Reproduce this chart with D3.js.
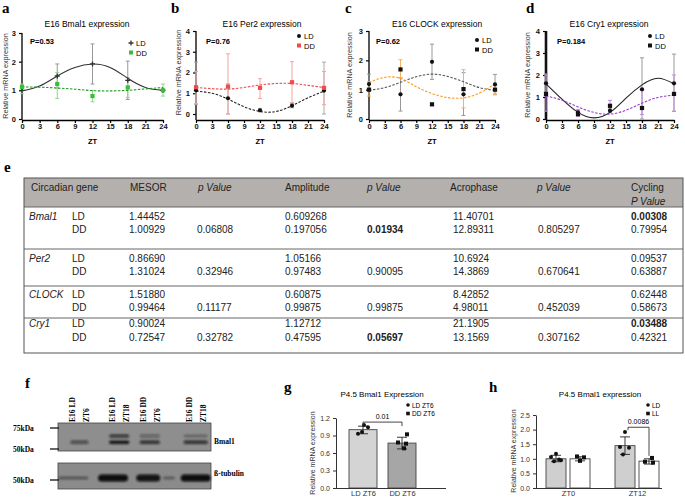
<!DOCTYPE html>
<html>
<head>
<meta charset="utf-8">
<script src="https://cdn.jsdelivr.net/npm/d3@7"></script>
<style>
  body { margin: 0; background: #fff; }
  svg { display: block; font-family: "Liberation Sans", Arial, sans-serif; }
</style>
</head>
<body>
<svg id="fig" width="685" height="501"></svg>
<script>
// ---------- data: panels a-d (E16 cosinor plots) ----------
const zt = [0, 6, 12, 18, 24];
const ztFit = [0, 3, 6, 9, 12, 15, 18, 21, 24];
const ztTicks = [0, 3, 6, 9, 12, 15, 18, 21, 24];

const bmal1LD = [1.0, 1.5, 1.92, 1.35, 1.0];
const bmal1LDlo = [1.0, 1.08, 1.22, 0.68, 1.0];
const bmal1LDhi = [1.0, 1.92, 2.62, 2.02, 1.0];
const bmal1LDfit = [0.98, 1.15, 1.5, 1.8, 1.92, 1.8, 1.42, 1.1, 1.0];
const bmal1DD = [1.12, 1.22, 0.8, 1.1, 1.0];
const bmal1DDlo = [0.88, 0.72, 0.6, 0.75, 0.8];
const bmal1DDhi = [1.22, 1.62, 1.0, 1.45, 1.22];
const bmal1DDfit = [1.12, 1.11, 1.08, 1.04, 0.99, 0.98, 1.0, 1.05, 1.1];

const per2LD = [1.14, 0.76, 0.18, 0.4, 1.13];
const per2LDlo = [0.45, 0.0, 0.1, 0.3, 0.0];
const per2LDhi = [2.5, 1.45, 0.27, 0.52, 2.5];
const per2LDfit = [1.1, 1.0, 0.72, 0.35, 0.12, 0.12, 0.4, 0.78, 1.1];
const per2DD = [1.29, 1.32, 1.26, 1.53, 1.26];
const per2DDlo = [0.5, 0.0, 0.75, 0.55, 0.45];
const per2DDhi = [2.05, 2.9, 1.7, 2.52, 2.05];
const per2DDfit = [1.28, 1.22, 1.2, 1.28, 1.4, 1.47, 1.47, 1.38, 1.28];

const clockLD = [1.19, 0.84, 1.95, 0.84, 1.18];
const clockLDlo = [1.0, 0.27, 1.35, 0.12, 0.85];
const clockLDhi = [1.53, 1.4, 2.55, 1.58, 1.52];
const clockLDfit = [0.98, 1.07, 1.25, 1.44, 1.53, 1.45, 1.27, 1.07, 0.98];
const clockDD = [1.0, 1.69, 0.5, 1.02, 1.0];
const clockDDlo = [0.78, 1.4, 0.5, 0.38, 0.82];
const clockDDhi = [1.27, 2.02, 0.5, 1.68, 1.2];
const clockDDfit = [1.25, 1.42, 1.38, 1.1, 0.87, 0.73, 0.72, 0.88, 1.2];

const cry1LD = [1.62, 0.3, 0.38, 1.35, 1.62];
const cry1LDlo = [1.2, 0.15, 0.28, 0.0, 0.35];
const cry1LDhi = [2.05, 0.42, 0.5, 2.78, 2.95];
const cry1LDfit = [1.6, 0.9, 0.3, 0.05, 0.3, 0.95, 1.55, 1.85, 1.6];
const cry1DD = [1.14, 0.22, 0.6, 0.5, 1.14];
const cry1DDlo = [0.35, 0.12, 0.4, 0.2, 0.35];
const cry1DDhi = [2.0, 0.4, 0.85, 1.3, 2.0];
const cry1DDfit = [1.05, 0.85, 0.55, 0.3, 0.22, 0.4, 0.72, 0.98, 1.08];

// ---------- data: panel e (cosinor table) ----------
const tableHeader = ["Circadian gene", "MESOR", "p Value", "Amplitude", "p Value", "Acrophase", "p Value", "Cycling"];
const genes = ["Bmal1", "Per2", "CLOCK", "Cry1"];
const mesorLD = ["1.44452", "0.86690", "1.51880", "0.90024"];
const mesorDD = ["1.00929", "1.31024", "0.99464", "0.72547"];
const mesorP = ["0.06808", "0.32946", "0.11177", "0.32782"];
const ampLD = ["0.609268", "1.05166", "0.60875", "1.12712"];
const ampDD = ["0.197056", "0.97483", "0.99875", "0.47595"];
const ampP = ["0.01934", "0.90095", "0.99875", "0.05697"];
const acroLD = ["11.40701", "10.6924", "8.42852", "21.1905"];
const acroDD = ["12.89311", "14.3869", "4.98011", "13.1569"];
const acroP = ["0.805297", "0.670641", "0.452039", "0.307162"];
const cycLD = ["0.00308", "0.09537", "0.62448", "0.03488"];
const cycDD = ["0.79954", "0.63887", "0.58673", "0.42321"];
const boldCells = ["0.01934", "0.05697", "0.00308", "0.03488"];

// ---------- data: panel f (western blot) ----------
const laneLabels = [["E16 LD", "ZT6"], ["E16 LD", "ZT18"], ["E16 DD", "ZT6"], ["E16 DD", "ZT18"]];
const laneAt = [14, 40, 60, 90];           // % across blot
const bmal1Lower = [0.55, 0.95, 0.75, 0.75]; // band darkness per lane
const bmal1Upper = [0.0, 0.75, 0.4, 0.3];
const tubulinAt = [10, 36, 59, 72.5, 90];
const tubulinBand = [0.4, 1.0, 0.95, 0.35, 1.0];
const tubulinWide = [19.6, 19.6, 15.7, 7.8, 19.6];
const markers = ["75kDa", "50kDa", "50kDa"];

// ---------- data: panel g ----------
const gGroups = ["LD ZT6", "DD ZT6"];
const gMean = [1.0, 0.77];
const gLo = [0.93, 0.67];
const gHi = [1.06, 0.87];
const gPoints = [[1.08, 1.04, 0.96, 0.93], [0.92, 0.78, 0.76, 0.68]];
const gTicks = [0, 0.3, 0.6, 0.9, 1.2];

// ---------- data: panel h ----------
const hGroups = ["ZT0", "ZT12"];
const hSeries = ["LD", "LL"];
const hMean = [[1.0, 1.0], [1.45, 0.92]];
const hLo = [[0.9, 0.93], [1.15, 0.82]];
const hHi = [[1.12, 1.07], [1.75, 1.0]];
const hPoints = [[[1.17, 1.06, 0.95, 0.92, 0.98], [1.08, 1.05, 0.93]],
                 [[1.92, 1.4, 1.38, 1.15], [1.03, 0.9, 0.87]]];
const hTicks = [0, 0.5, 1.0, 1.5, 2.0, 2.5];

// ---------- drawing ----------
const svg = d3.select("#fig");
const serif = "'Liberation Serif', 'Times New Roman', serif";

function letter(t, x, y) {
  svg.append("text").attr("x", x).attr("y", y).text(t)
    .style("font-family", serif).style("font-weight", "bold").style("font-size", "15px");
}

function marker(g, type, cx, cy, color, size) {
  if (type === "square") {
    g.append("rect").attr("x", cx - size / 2).attr("y", cy - size / 2)
      .attr("width", size).attr("height", size).attr("fill", color);
  } else if (type === "circle") {
    g.append("circle").attr("cx", cx).attr("cy", cy).attr("r", size / 2).attr("fill", color);
  } else {
    g.append("path").attr("d", `M${cx - 2.5},${cy}H${cx + 2.5}M${cx},${cy - 2.5}V${cy + 2.5}`)
      .attr("stroke", color).attr("stroke-width", 1.3);
  }
}

function cosinorPanel(p) {
  const g = svg.append("g");
  const x = d3.scaleLinear().domain([0, 24]).range([p.x0, p.x1]);
  const y = d3.scaleLinear().domain([0, p.ymax]).range([p.y0, p.yTop]);

  g.append("text").attr("x", p.tx).attr("y", 27).attr("text-anchor", "middle")
    .style("font-size", "8.5px").text(p.title);

  const yAx = g.append("g").attr("transform", `translate(${p.x0},0)`)
    .call(d3.axisLeft(y).ticks(p.ymax).tickFormat(d3.format("d")).tickSize(3).tickSizeOuter(0));
  yAx.select(".domain").remove();
  g.append("line").attr("x1", p.x0).attr("x2", p.x0).attr("y1", p.yTop).attr("y2", p.xAxisY)
    .attr("stroke", "#111").attr("stroke-width", p.thickY ? 2.6 : 1.4);

  const xAx = g.append("g").attr("transform", `translate(0,${p.xAxisY})`)
    .call(d3.axisBottom(x).tickValues(ztTicks).tickSize(3).tickSizeOuter(0));
  xAx.select(".domain").attr("stroke-width", 1.4);
  [yAx, xAx].forEach(a => {
    a.selectAll("text").style("font-size", "7.5px").style("font-weight", "bold")
      .style("font-family", "'Liberation Sans', Arial, sans-serif").attr("fill", "#111");
    a.selectAll(".tick line").attr("stroke-width", 1.2);
  });
  xAx.selectAll("text").attr("dy", "0.62em").attr("y", 4);

  g.append("text").attr("x", (p.x0 + p.x1) / 2).attr("y", 144).attr("text-anchor", "middle")
    .style("font-size", "7.5px").style("font-weight", "bold").text("ZT");
  g.append("text").attr("transform", `translate(${p.ylx},${(p.yTop + p.y0) / 2}) rotate(-90)`)
    .attr("text-anchor", "middle").style("font-size", "7.2px").attr("fill", "#333")
    .text("Relative mRNA expression");
  g.append("text").attr("x", p.px).attr("y", 44).style("font-size", "7.5px")
    .style("font-weight", "bold").text(p.pval);

  const line = d3.line().x((d, i) => x(ztFit[i])).y(d => y(d)).curve(d3.curveNatural);

  p.series.forEach(s => {
    zt.forEach((t, i) => {
      if (s.hi[i] - s.lo[i] < 0.02) return;
      const e = g.append("g").attr("stroke", s.err).attr("stroke-width", 1);
      e.append("line").attr("x1", x(t)).attr("x2", x(t)).attr("y1", y(s.lo[i])).attr("y2", y(s.hi[i]));
      [s.lo[i], s.hi[i]].forEach(v => e.append("line").attr("x1", x(t) - 2).attr("x2", x(t) + 2)
        .attr("y1", y(v)).attr("y2", y(v)));
    });
  });
  p.series.forEach(s => {
    g.append("path").datum(s.fit).attr("d", line).attr("fill", "none")
      .attr("stroke", s.curve).attr("stroke-width", 1.1)
      .attr("stroke-dasharray", s.dash ? "2.5,1.5" : null);
  });
  p.series.forEach(s => {
    zt.forEach((t, i) => marker(g, s.shape, x(t), y(s.mean[i]), s.color, 4.2));
  });
  p.series.forEach((s, i) => {
    marker(g, s.shape, p.lgx, p.lgy + i * 9.5, s.color, 4);
    g.append("text").attr("x", p.lgx + 5).attr("y", p.lgy + i * 9.5 + 3)
      .style("font-size", "7.5px").text(s.name);
  });
}

const panels = [
  { letter: "a", lx: 2, title: "E16 Bmal1 expression", tx: 87, x0: 22, x1: 163, yTop: 33, y0: 119, xAxisY: 120,
    ymax: 3, ylx: 8, px: 30, pval: "P=0.53", lgx: 131, lgy: 43,
    series: [
      { name: "LD", shape: "plus", color: "#333", err: "#999", curve: "#333", dash: false,
        mean: bmal1LD, lo: bmal1LDlo, hi: bmal1LDhi, fit: bmal1LDfit },
      { name: "DD", shape: "square", color: "#35c135", err: "#8fd88f", curve: "#1e9a1e", dash: true,
        mean: bmal1DD, lo: bmal1DDlo, hi: bmal1DDhi, fit: bmal1DDfit }] },
  { letter: "b", lx: 171, title: "E16 Per2 expression", tx: 262, x0: 196, x1: 324, yTop: 31, y0: 114, xAxisY: 120,
    ymax: 4, ylx: 181, px: 206, pval: "P=0.76", lgx: 299, lgy: 36,
    series: [
      { name: "LD", shape: "circle", color: "#111", err: "#aaa", curve: "#222", dash: true,
        mean: per2LD, lo: per2LDlo, hi: per2LDhi, fit: per2LDfit },
      { name: "DD", shape: "square", color: "#f04a4a", err: "#f5a5a5", curve: "#f04a4a", dash: true,
        mean: per2DD, lo: per2DDlo, hi: per2DDhi, fit: per2DDfit }] },
  { letter: "c", lx: 345, title: "E16 CLOCK expression", tx: 437, x0: 369, x1: 495, yTop: 31, y0: 119, xAxisY: 120,
    ymax: 3, ylx: 352, px: 376, pval: "P=0.62", lgx: 477, lgy: 40,
    series: [
      { name: "LD", shape: "circle", color: "#111", err: "#999", curve: "#555", dash: true,
        mean: clockLD, lo: clockLDlo, hi: clockLDhi, fit: clockLDfit },
      { name: "DD", shape: "square", color: "#111", err: "#f5b060", curve: "#f59a2a", dash: true,
        mean: clockDD, lo: clockDDlo, hi: clockDDhi, fit: clockDDfit }] },
  { letter: "d", lx: 526, title: "E16 Cry1 expression", tx: 609, x0: 546, x1: 674, yTop: 31, y0: 119, xAxisY: 120,
    ymax: 4, ylx: 530, px: 557, pval: "P=0.184", lgx: 650, lgy: 36, thickY: true,
    series: [
      { name: "LD", shape: "circle", color: "#111", err: "#999", curve: "#222", dash: false,
        mean: cry1LD, lo: cry1LDlo, hi: cry1LDhi, fit: cry1LDfit },
      { name: "DD", shape: "square", color: "#111", err: "#c38be0", curve: "#9a3ad0", dash: true,
        mean: cry1DD, lo: cry1DDlo, hi: cry1DDhi, fit: cry1DDfit }] }
];
panels.forEach(p => { letter(p.letter, p.lx, 13); cosinorPanel(p); });

// ---------- panel e: table ----------
letter("e", 4, 172);
const tb = svg.append("g").style("font-size", "10px").attr("fill", "#222");
const tLeft = 24, tRight = 683, tTop = 178, tHead = 207, tBottom = 353;
tb.append("rect").attr("x", tLeft).attr("y", tTop).attr("width", tRight - tLeft).attr("height", tHead - tTop)
  .attr("fill", "#b3b0ad");
const headX = [31, 130, 198, 285, 367, 450, 537, 631];
tableHeader.forEach((h, i) => {
  tb.append("text").attr("x", headX[i]).attr("y", 191).text(h)
    .style("font-style", h === "p Value" ? "italic" : "normal");
});
tb.append("text").attr("x", 631).attr("y", 205).text("P Value").style("font-style", "italic");
const rowY = [[216, 229], [258, 271], [294, 307], [323, 337]];
const colX = { gene: 29, cond: 72, mesor: 129, p1: 197, amp: 285, p2: 367, acro: 453, p3: 538, cyc: 631 };
function cell(t, x, y, italic) {
  tb.append("text").attr("x", x).attr("y", y + 3.5).text(t)
    .style("font-weight", boldCells.includes(t) ? "bold" : "normal")
    .style("font-style", italic ? "italic" : "normal");
}
genes.forEach((gname, i) => {
  const [yl, yd] = rowY[i];
  cell(gname, colX.gene, yl, true);
  cell("LD", colX.cond, yl); cell("DD", colX.cond, yd);
  cell(mesorLD[i], colX.mesor, yl); cell(mesorDD[i], colX.mesor, yd); cell(mesorP[i], colX.p1, yd);
  cell(ampLD[i], colX.amp, yl); cell(ampDD[i], colX.amp, yd); cell(ampP[i], colX.p2, yd);
  cell(acroLD[i], colX.acro, yl); cell(acroDD[i], colX.acro, yd); cell(acroP[i], colX.p3, yd);
  cell(cycLD[i], colX.cyc, yl); cell(cycDD[i], colX.cyc, yd);
});
[tHead, 249, 286, 318].forEach(yy => tb.append("line").attr("x1", tLeft).attr("x2", tRight)
  .attr("y1", yy).attr("y2", yy).attr("stroke", "#666").attr("stroke-width", 1));
tb.append("rect").attr("x", tLeft).attr("y", tTop).attr("width", tRight - tLeft).attr("height", tBottom - tTop)
  .attr("fill", "none").attr("stroke", "#555").attr("stroke-width", 1);

// ---------- panel f: blot ----------
letter("f", 25, 388);
const defs = svg.append("defs");
defs.append("filter").attr("id", "blur").attr("x", "-30%").attr("y", "-100%").attr("width", "160%").attr("height", "300%")
  .append("feGaussianBlur").attr("stdDeviation", 1.1);
const bx = d3.scaleLinear().domain([0, 100]).range([58, 211]);
const bf = svg.append("g");
bf.append("rect").attr("x", bx(0)).attr("y", 423).attr("width", bx(100) - bx(0)).attr("height", 28).attr("fill", "#8e8e8e");
bf.append("rect").attr("x", bx(0)).attr("y", 463).attr("width", bx(100) - bx(0)).attr("height", 26).attr("fill", "#8b8b8b");
const bands = bf.append("g").attr("filter", "url(#blur)");
laneAt.forEach((c, i) => {
  const w = i === 3 ? 15.7 : (i === 0 ? 11.8 : 13.1);
  if (bmal1Upper[i] > 0) bands.append("rect").attr("x", bx(c - w / 2)).attr("y", 434.5)
    .attr("width", bx(w) - bx(0)).attr("height", 3).attr("rx", 1.5).attr("fill", "#111").attr("opacity", bmal1Upper[i]);
  bands.append("rect").attr("x", bx(c - w / 2)).attr("y", 440.5)
    .attr("width", bx(w) - bx(0)).attr("height", 3.5).attr("rx", 1.5).attr("fill", "#111").attr("opacity", bmal1Lower[i]);
});
tubulinAt.forEach((c, i) => {
  const w = tubulinWide[i], h = tubulinBand[i] > 0.9 ? 7 : 3;
  bands.append("rect").attr("x", bx(c - w / 2)).attr("y", 478 - h / 2)
    .attr("width", bx(w) - bx(0)).attr("height", h).attr("rx", h / 2).attr("fill", "#0a0a0a").attr("opacity", tubulinBand[i]);
});
bf.append("rect").attr("x", bx(0)).attr("y", 423).attr("width", bx(100) - bx(0)).attr("height", 28)
  .attr("fill", "none").attr("stroke", "#444").attr("stroke-width", 0.8);
bf.append("rect").attr("x", bx(0)).attr("y", 463).attr("width", bx(100) - bx(0)).attr("height", 26)
  .attr("fill", "none").attr("stroke", "#444").attr("stroke-width", 0.8);
laneLabels.forEach((lab, i) => {
  lab.forEach((t, j) => {
    bf.append("text").attr("transform", `translate(${bx(laneAt[i]) - 4 + j * 14},422) rotate(-90)`)
      .style("font-family", serif).style("font-weight", "bold").style("font-size", "7.5px").text(t);
  });
});
const markY = [428, 449, 480];
markers.forEach((m, i) => {
  bf.append("text").attr("x", 13).attr("y", markY[i] + 2.5).text(m)
    .style("font-family", serif).style("font-weight", "bold").style("font-size", "7.5px");
  bf.append("line").attr("x1", 50).attr("x2", 59).attr("y1", markY[i]).attr("y2", markY[i])
    .attr("stroke", "#111").attr("stroke-width", 1.3);
});
[["Bmal1", 444], ["\u00df-tubulin", 476]].forEach(([t, yy]) => bf.append("text").attr("x", 214).attr("y", yy)
  .text(t).style("font-family", serif).style("font-weight", "bold").style("font-size", "7.5px"));

// ---------- bar chart helper (g, h) ----------
function styleAxis(a) {
  a.selectAll("text").style("font-size", "7px").attr("fill", "#333");
  a.select(".domain").attr("stroke", "#333");
  a.selectAll(".tick line").attr("stroke", "#333");
}
function errBar(g, cx, lo, hi, y) {
  const e = g.append("g").attr("stroke", "#222").attr("stroke-width", 0.9);
  e.append("line").attr("x1", cx).attr("x2", cx).attr("y1", y(lo)).attr("y2", y(hi));
  [lo, hi].forEach(v => e.append("line").attr("x1", cx - 5).attr("x2", cx + 5).attr("y1", y(v)).attr("y2", y(v)));
}
const barBase = 488;

// ---------- panel g ----------
letter("g", 284, 392);
{
  const g = svg.append("g");
  const y = d3.scaleLinear().domain([0, 1.2]).range([barBase, 418]);
  const x = d3.scalePoint().domain(gGroups).range([363, 402]);
  const bw = 28;
  const jitter = [[1, 5, -1, -5], [5, -4, 4, 2]];
  g.append("text").attr("x", 382).attr("y", 397).attr("text-anchor", "middle").style("font-size", "8px")
    .text("P4.5 Bmal1 Expression");
  const fills = ["#d4d4d4", "#a6a6a6"];
  gGroups.forEach((k, i) => {
    g.append("rect").attr("x", x(k) - bw / 2).attr("y", y(gMean[i])).attr("width", bw)
      .attr("height", y(0) - y(gMean[i])).attr("fill", fills[i]).attr("stroke", "#444").attr("stroke-width", 0.9);
    errBar(g, x(k), gLo[i], gHi[i], y);
    gPoints[i].forEach((v, j) => marker(g, i === 0 ? "circle" : "square", x(k) + jitter[i][j], y(v), "#111", 4));
  });
  const ya = g.append("g").attr("transform", "translate(336,0)")
    .call(d3.axisLeft(y).tickValues(gTicks).tickFormat(d3.format(".1f")).tickSize(3).tickSizeOuter(0));
  const xa = g.append("g").attr("transform", `translate(0,${barBase})`)
    .call(d3.axisBottom(x).tickSize(0).tickSizeOuter(0));
  xa.select(".domain").attr("d", "M336,0.5H446");
  xa.selectAll("text").attr("y", 3);
  styleAxis(ya); styleAxis(xa);
  xa.selectAll("text").style("font-size", "7.5px");
  g.append("text").attr("transform", `translate(315,453) rotate(-90)`).attr("text-anchor", "middle")
    .style("font-size", "7px").attr("fill", "#333").text("Relative mRNA expression");
  g.append("path").attr("d", `M${x(gGroups[0])},${y(1.13) + 4}V${y(1.13)}H${x(gGroups[1])}V${y(1.13) + 4}`)
    .attr("fill", "none").attr("stroke", "#333").attr("stroke-width", 0.9);
  g.append("text").attr("x", (x(gGroups[0]) + x(gGroups[1])) / 2).attr("y", y(1.13) - 3)
    .attr("text-anchor", "middle").style("font-size", "7px").text("0.01");
  ["LD ZT6", "DD ZT6"].forEach((t, i) => {
    marker(g, i === 0 ? "circle" : "square", 408, 405 + i * 8.5, "#111", 3.6);
    g.append("text").attr("x", 412).attr("y", 407.5 + i * 8.5).style("font-size", "6.5px").text(t);
  });
}

// ---------- panel h ----------
letter("h", 489, 392);
{
  const g = svg.append("g");
  const y = d3.scaleLinear().domain([0, 2.5]).range([barBase, 415]);
  const x = d3.scalePoint().domain(hGroups).range([568, 637]);
  const sub = d3.scalePoint().domain(hSeries).range([-12, 12]);
  const bw = 20;
  const jitter = [[[0, -5, 5, -2, 3], [-3, 4, 0]], [[0, -5, 4, -2], [3, -4, 4]]];
  g.append("text").attr("x", 600).attr("y", 397).attr("text-anchor", "middle").style("font-size", "8px")
    .text("P4.5 Bmal1 expression");
  hGroups.forEach((k, i) => {
    hSeries.forEach((s, j) => {
      const cx = x(k) + sub(s);
      g.append("rect").attr("x", cx - bw / 2).attr("y", y(hMean[i][j])).attr("width", bw)
        .attr("height", y(0) - y(hMean[i][j])).attr("fill", j === 0 ? "#cfcfcf" : "#fff")
        .attr("stroke", "#444").attr("stroke-width", 0.9);
      errBar(g, cx, hLo[i][j], hHi[i][j], y);
      hPoints[i][j].forEach((v, n) => marker(g, j === 0 ? "circle" : "square", cx + jitter[i][j][n], y(v), "#111", 4));
    });
  });
  const ya = g.append("g").attr("transform", "translate(536,0)")
    .call(d3.axisLeft(y).tickValues(hTicks).tickFormat(d3.format(".1f")).tickSize(3).tickSizeOuter(0));
  const xa = g.append("g").attr("transform", `translate(0,${barBase})`)
    .call(d3.axisBottom(x).tickSize(0).tickSizeOuter(0));
  xa.select(".domain").attr("d", "M536,0.5H662");
  xa.selectAll("text").attr("y", 3);
  styleAxis(ya); styleAxis(xa);
  xa.selectAll("text").style("font-size", "7.5px");
  g.append("text").attr("transform", `translate(516,451) rotate(-90)`).attr("text-anchor", "middle")
    .style("font-size", "7px").attr("fill", "#333").text("Relative mRNA expression");
  const xl = x(hGroups[1]) + sub("LD") + 3, xr = x(hGroups[1]) + sub("LL");
  g.append("path").attr("d", `M${xl},${y(1.98)}V${y(2.08)}H${xr}V${y(1.1)}`)
    .attr("fill", "none").attr("stroke", "#333").attr("stroke-width", 0.9);
  g.append("text").attr("x", (xl + xr) / 2).attr("y", y(2.08) - 3)
    .attr("text-anchor", "middle").style("font-size", "7px").text("0.0086");
  hSeries.forEach((t, i) => {
    marker(g, i === 0 ? "circle" : "square", 648, 405 + i * 8.5, "#111", 3.6);
    g.append("text").attr("x", 652).attr("y", 407.5 + i * 8.5).style("font-size", "6.5px").text(t);
  });
}
</script>
</body>
</html>
